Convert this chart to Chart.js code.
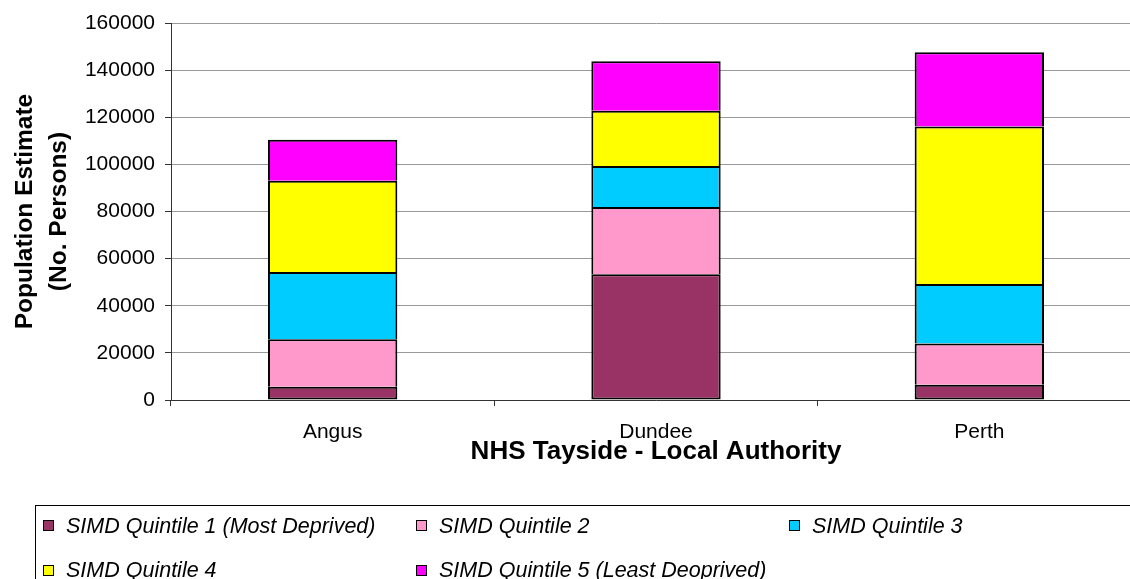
<!DOCTYPE html>
<html>
<head>
<meta charset="utf-8">
<script src="https://cdn.jsdelivr.net/npm/chart.js@4/dist/chart.umd.min.js"></script>
<style>
  html, body { margin: 0; padding: 0; background: #fff; overflow: hidden; }
  #wrap { position: relative; width: 1130px; height: 579px; overflow: hidden; background: #fff; }
  #c { position: absolute; left: 0; top: 0; }
  #legend { position: absolute; left: 35px; top: 505px; width: 1200px; height: 120px;
            border: 1px solid #000; box-sizing: border-box; }
  .li { position: absolute; font-family: 'Liberation Sans', Arial, sans-serif; font-style: italic;
        font-size: 21.5px; color: #000; white-space: nowrap; line-height: 24px; }
  .mk { position: absolute; width: 11px; height: 11px; border: 1px solid #000; box-sizing: border-box; }
</style>
</head>
<body>
<div id="wrap">
  <canvas id="c" width="1200" height="579"></canvas>
  <div id="legend"></div>
</div>
<script>
const categories = ['Angus', 'Dundee', 'Perth'];
const seriesNames = [
  'SIMD Quintile 1 (Most Deprived)',
  'SIMD Quintile 2',
  'SIMD Quintile 3',
  'SIMD Quintile 4',
  'SIMD Quintile 5 (Least Deoprived)'
];
const q1 = [5600, 53400, 6500];
const q2 = [20200, 28500, 17500];
const q3 = [28500, 17400, 25200];
const q4 = [38700, 23500, 66900];
const q5 = [17500, 21000, 31500];
const yTickValues = [0, 20000, 40000, 60000, 80000, 100000, 120000, 140000, 160000];
const seriesColors = ['#993366', '#FF99CC', '#00CCFF', '#FFFF00', '#FF00FF'];

const seriesValues = [q1, q2, q3, q4, q5];
const FONT = "'Liberation Sans', Arial, sans-serif";

const datasets = seriesValues.map((vals, i) => ({
  label: seriesNames[i],
  data: vals,
  backgroundColor: seriesColors[i],
  borderColor: '#000000',
  borderWidth: { top: 2, left: 2, right: 2, bottom: i === 0 ? 2 : 0 },
  borderSkipped: false,
  categoryPercentage: 1.0,
  barPercentage: 0.4
}));

new Chart(document.getElementById('c'), {
  type: 'bar',
  data: { labels: categories, datasets: datasets },
  options: {
    responsive: false,
    animation: false,
    devicePixelRatio: 1,
    layout: { padding: { top: 23, right: 59, bottom: 109, left: 0 } },
    plugins: { legend: { display: false }, tooltip: { enabled: false }, title: { display: false } },
    scales: {
      x: {
        stacked: true,
        afterFit: (s) => { s.height = 70; },
        grid: { display: true, drawOnChartArea: false, offset: true, tickLength: 6, tickColor: '#333', color: '#333' },
        border: { display: true, color: '#333', width: 1 },
        ticks: { color: '#000', padding: 14, font: { family: FONT, size: 21 } },
        title: { display: true, text: 'NHS Tayside - Local Authority', color: '#000',
                 font: { family: FONT, size: 26, weight: 'bold' }, padding: { top: 0, bottom: 3 } }
      },
      y: {
        stacked: true,
        min: 0, max: 160000,
        afterFit: (s) => { s.width = 171; },
        afterBuildTicks: (s) => { s.ticks = yTickValues.map(v => ({ value: v })); },
        grid: { color: '#999', tickColor: '#333', tickLength: 6, lineWidth: 1 },
        border: { display: true, color: '#333', width: 1 },
        ticks: { color: '#000', padding: 10, font: { family: FONT, size: 21 },
                 callback: (v) => String(v) },
        title: { display: true, text: ['Population Estimate', '(No. Persons)'], color: '#000',
                 font: { family: FONT, size: 24.5, weight: 'bold', lineHeight: 1.4 }, padding: { top: 8, bottom: 0 } }
      }
    }
  }
});

// Legend (HTML, built from the series arrays)
const legend = document.getElementById('legend');
const colX = [43, 416, 789];   // page x of marker per column
const rowY = [525.5, 570];     // page y centre per row
seriesNames.forEach((name, i) => {
  const col = i % 3, row = Math.floor(i / 3);
  const mk = document.createElement('div');
  mk.className = 'mk';
  mk.style.background = seriesColors[i];
  mk.style.left = (colX[col] - 35 - 1) + 'px';
  mk.style.top = (rowY[row] - 505 - 1 - 5.5) + 'px';
  legend.appendChild(mk);
  const t = document.createElement('div');
  t.className = 'li';
  t.textContent = name;
  t.style.left = (colX[col] + 23 - 35 - 1) + 'px';
  t.style.top = (rowY[row] - 505 - 1 - 12) + 'px';
  legend.appendChild(t);
});
</script>
</body>
</html>
